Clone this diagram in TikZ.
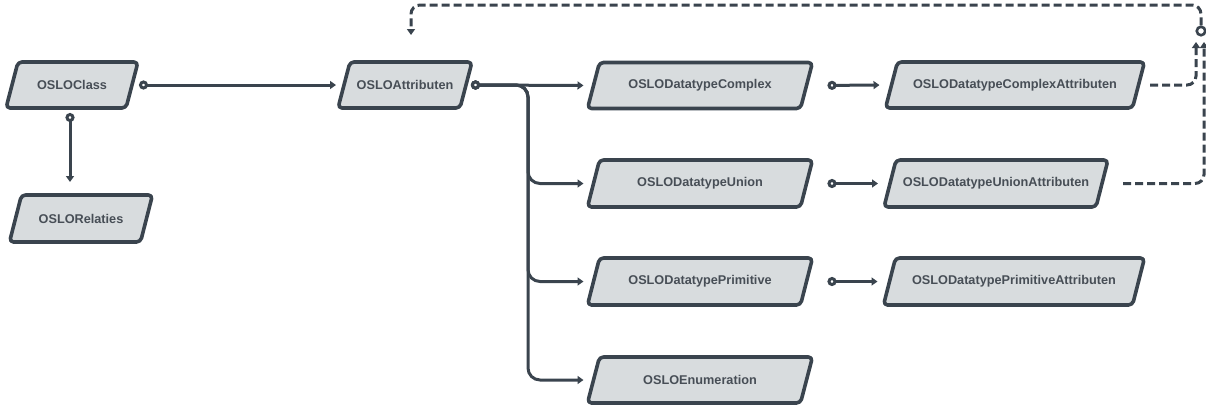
\documentclass[tikz,border=0pt]{standalone}
\usepackage{fontspec}
\setmainfont{Liberation Sans}
\usetikzlibrary{arrows.meta,backgrounds,calc}
\definecolor{ink}{HTML}{3A444E}
\definecolor{boxfill}{HTML}{D8DCDE}
\definecolor{txt}{HTML}{474E56}
\begin{document}
\begin{tikzpicture}[x=1pt,y=-1pt,
  box/.style={inner sep=0pt, outer sep=0pt, minimum height=46pt,
    font=\fontsize{12.7}{14}\selectfont\bfseries, text=txt},
  shapeline/.style={draw=ink, fill=boxfill, line width=3.6pt, rounded corners=4pt, line join=round},
  conn/.style={draw=ink, line width=3pt,
    {Circle[open,fill=white,length=9pt,width=9pt]}-{Triangle[length=6pt,width=8pt]}},
  dconn/.style={draw=ink, line width=3pt, dash pattern=on 8pt off 4pt, rounded corners=9pt,
    -{Triangle[length=6pt,width=8pt]}}
]
\useasboundingbox (0,0) rectangle (1206,405);

% nodes
\node[box, minimum width=120pt] (cls) at (72,85) {OSLOClass};
\node[box, minimum width=131pt, minimum height=47pt] (rel) at (81,218.5) {OSLORelaties};
\node[box, minimum width=122pt] (attr) at (405,85) {OSLOAttributen};
\node[box, minimum width=213pt] (dcomp) at (700,85.5) {OSLODatatypeComplex};
\node[box, minimum width=213pt, minimum height=47pt] (dunion) at (700,183.5) {OSLODatatypeUnion};
\node[box, minimum width=213pt, minimum height=47pt] (dprim) at (700,281.5) {OSLODatatypePrimitive};
\node[box, minimum width=213pt] (denum) at (700,380) {OSLOEnumeration};
\node[box, minimum width=247pt] (acomp) at (1015,85) {OSLODatatypeComplexAttributen};
\node[box, minimum width=212pt, minimum height=47pt] (aunion) at (996,183.5) {OSLODatatypeUnionAttributen};
\node[box, minimum width=249pt, minimum height=47pt] (aprim) at (1014,281.5) {OSLODatatypePrimitiveAttributen};

\begin{scope}[on background layer]
\foreach \n in {cls,rel,attr,dcomp,dunion,dprim,denum,acomp,aunion,aprim}{
  \draw[shapeline] ([xshift=6pt]\n.north west) -- ([xshift=6pt]\n.north east)
    -- ([xshift=-6pt]\n.south east) -- ([xshift=-6pt]\n.south west) -- cycle;
}
\end{scope}

% connectors
\draw[conn, shorten <=7pt, shorten >=8pt] (cls.east) -- (attr.west);
\draw[conn, shorten <=5pt, shorten >=13pt] ([xshift=-2pt]cls.south) -- ([xshift=-2pt]cls.south |- rel.north);

\coordinate (br) at (528,85);
\draw[conn, shorten <=5pt, shorten >=10pt] (attr.east) -- (dcomp.west);
\draw[conn, rounded corners=12pt, shorten <=5pt, shorten >=10pt] (attr.east) -| (br |- dunion.west) -- (dunion.west);
\draw[conn, rounded corners=12pt, shorten <=5pt, shorten >=10pt] (attr.east) -| (br |- dprim.west) -- (dprim.west);
\draw[conn, rounded corners=12pt, shorten <=5pt, shorten >=10pt] (attr.east) -| (br |- denum.west) -- (denum.west);

\draw[conn, shorten <=21pt, shorten >=12pt] (dcomp.east) -- (acomp.west);
\draw[conn, shorten <=21pt, shorten >=12pt] (dunion.east) -- (aunion.west);
\draw[conn, shorten <=21pt, shorten >=12pt] (dprim.east) -- (aprim.west);

% dashed loop back
\coordinate (inA) at (1196,42);
\coordinate (inB) at (1204,42);
\coordinate (topy) at (1202,5);
\coordinate (back) at (411,35);
\node[circle, draw=ink, fill=white, line width=2.6pt, minimum size=8.5pt, inner sep=0pt] (loop) at (1201,31) {};
\draw[dconn, shorten <=11.5pt] (acomp.east) -| (inA);
\draw[dconn, shorten <=21pt] (aunion.east) -| (inB);
\draw[dconn] (loop.north) |- (topy -| back) -- (back);
\end{tikzpicture}
\end{document}
